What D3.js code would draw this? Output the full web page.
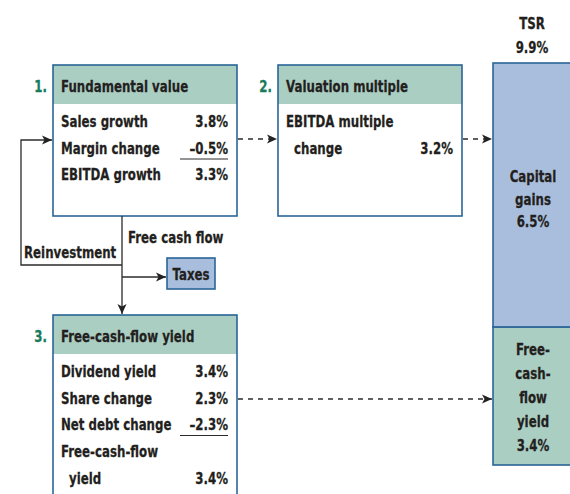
<!DOCTYPE html>
<html><head><meta charset="utf-8">
<script src="https://cdn.jsdelivr.net/npm/d3@7"></script>
<style>
html,body{margin:0;padding:0;background:#fff;}
text{font-family:"DejaVu Sans",sans-serif;font-weight:bold;fill:#231f20;stroke:#231f20;stroke-width:0.3px;font-size:16.5px;}
text.num{fill:#1a7a5c;stroke:#1a7a5c;}
</style></head>
<body><svg id="c" width="570" height="494"></svg>
<script>
// ---- data ----
const boxTitles = ["Fundamental value", "Valuation multiple", "Free-cash-flow yield"];
const boxNumbers = ["1.", "2.", "3."];
const fundamentalLabels = ["Sales growth", "Margin change", "EBITDA growth"];
const fundamentalValues = ["3.8%", "\u20130.5%", "3.3%"];
const valuationLabels = ["EBITDA multiple", "change"];
const valuationValues = ["", "3.2%"];
const fcfLabels = ["Dividend yield", "Share change", "Net debt change", "Free-cash-flow", "yield"];
const fcfValues = ["3.4%", "2.3%", "\u20132.3%", "", "3.4%"];
const tsrTotal = 9.9;
const tsrSegments = ["Free-cash-flow yield", "Capital gains"];
const tsrValues = [3.4, 6.5];
const tsrSegmentLines = [["Free-", "cash-", "flow", "yield", "3.4%"], ["Capital", "gains", "6.5%"]];

// ---- styles ----
const GREEN = "#abcec3", BLUE = "#a9bedc", BORDER = "#2a6496", INK = "#2b2b2b";
const SX = 0.716; // horizontal condensing of the glyphs

const svg = d3.select("#c");
const defs = svg.append("defs");
defs.append("marker").attr("id","ah").attr("viewBox","0 0 10 10").attr("refX",10).attr("refY",5)
  .attr("markerWidth",10).attr("markerHeight",10).attr("markerUnits","userSpaceOnUse").attr("orient","auto")
  .append("path").attr("d","M0,0.5 L10,5 L0,9.5 L2.5,5 Z").attr("fill","#222");

function txt(parent, x, y, s, anchor){
  return parent.append("text").attr("transform",`translate(${x},${y}) scale(${SX},1)`)
    .attr("text-anchor", anchor || "start").text(s);
}

// boxes layout
const boxes = [
  {x:53, y:65, w:184, h:151, labels:fundamentalLabels, values:fundamentalValues, underline:1, indent:[]},
  {x:278, y:65, w:184, h:151, labels:valuationLabels, values:valuationValues, underline:-1, indent:[1]},
  {x:53, y:315, w:184, h:200, labels:fcfLabels, values:fcfValues, underline:2, indent:[4]}
];
const headerH = 39;
const rowY = d3.scaleLinear().domain([0,1]).range([62, 88.5]);

boxes.forEach((b,i)=>{
  const g = svg.append("g").attr("transform",`translate(${b.x},${b.y})`);
  g.append("rect").attr("width",b.w).attr("height",b.h).attr("fill","#fff");
  g.append("rect").attr("width",b.w).attr("height",headerH).attr("fill",GREEN);
  g.append("rect").attr("width",b.w).attr("height",b.h).attr("fill","none").attr("stroke",BORDER).attr("stroke-width",1.6);
  txt(g, 8, 27, boxTitles[i]);
  txt(g, -6, 27, boxNumbers[i], "end").attr("class","num");
  b.labels.forEach((l,j)=>{
    const y = i===2 && j>=3 ? rowY(j) + 0.5 : rowY(j);
    txt(g, b.indent.includes(j)?16:8, y, l);
    if (b.values[j]) txt(g, 175, y, b.values[j], "end");
  });
  if (b.underline>=0){
    const y = rowY(b.underline)+5.5;
    g.append("line").attr("x1",127).attr("x2",175).attr("y1",y).attr("y2",y).attr("stroke",INK).attr("stroke-width",1.2);
  }
});

// TSR bar
const y = d3.scaleLinear().domain([0, tsrTotal]).range([465, 63]);
const barX = 493, barW = 80;
let cum = 0;
const segs = tsrValues.map((v,i)=>{const s={i, y0:cum, y1:cum+v}; cum+=v; return s;});
svg.selectAll("rect.seg").data(segs).join("rect").attr("class","seg")
  .attr("x",barX).attr("width",barW)
  .attr("y",d=>y(d.y1)).attr("height",d=>y(d.y0)-y(d.y1))
  .attr("fill",d=>d.i===0?GREEN:BLUE).attr("stroke",BORDER).attr("stroke-width",1.6);
segs.forEach(s=>{
  const lines = tsrSegmentLines[s.i];
  const mid = (y(s.y0)+y(s.y1))/2;
  const lh = s.i===0 ? 24 : 22.5;
  const off = s.i===0 ? 7.5 : 10;
  lines.forEach((t,k)=>{
    txt(svg, barX+40, mid + (k-(lines.length-1)/2)*lh + off, t, "middle");
  });
});
txt(svg, 532, 29, "TSR", "middle");
txt(svg, 532, 53, d3.format(".1f")(tsrTotal)+"%", "middle");

// dashed arrows
const dash = (x1,y1,x2,y2)=>svg.append("line").attr("x1",x1).attr("y1",y1).attr("x2",x2).attr("y2",y2)
  .attr("stroke",INK).attr("stroke-width",1.3).attr("stroke-dasharray","5,5").attr("marker-end","url(#ah)");
dash(238,139,277,139);
dash(463,139,492,139);
dash(238,399,492,399);

// solid flow lines
const solid = (pts, arrow)=>{
  const p = svg.append("path").attr("d", d3.line()(pts)).attr("fill","none").attr("stroke",INK).attr("stroke-width",1.3);
  if (arrow) p.attr("marker-end","url(#ah)");
};
solid([[122,216],[122,314]], true);
solid([[122,265],[21,265],[21,140],[52,140]], true);
solid([[122,277],[166,277]], true);

// taxes box
svg.append("rect").attr("x",167).attr("y",258).attr("width",48).attr("height",31).attr("fill",BLUE).attr("stroke",BORDER).attr("stroke-width",1.6);
txt(svg, 191, 280, "Taxes", "middle");
txt(svg, 128, 243, "Free cash flow");
txt(svg, 24, 258, "Reinvestment");
</script></body></html>
